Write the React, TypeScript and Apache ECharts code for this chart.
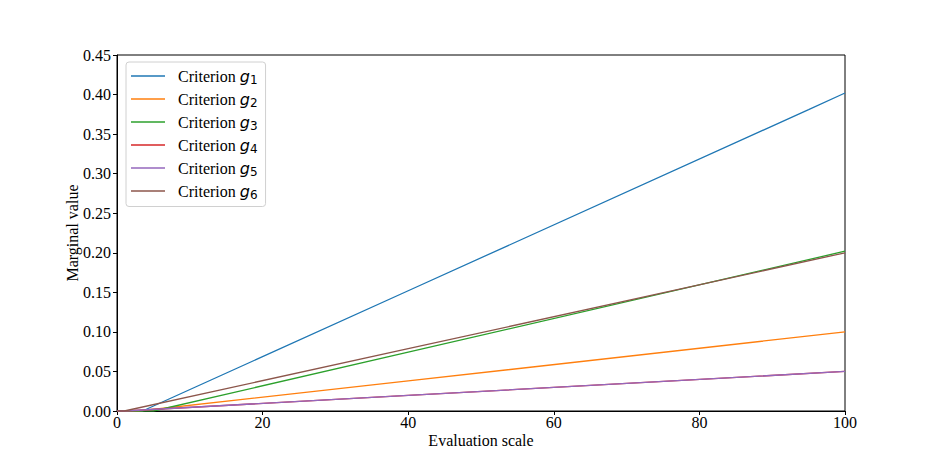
import React, { useEffect, useRef } from "react";
import * as echarts from "echarts";

const seriesNames = ["1", "2", "3", "4", "5", "6"];
const colors = ["#1f77b4", "#ff7f0e", "#2ca02c", "#d62728", "#9467bd", "#8c564b"];
// breakpoints [x, y]
const g1 = [[0, 0], [3.5, 0], [40, 0.152], [95, 0.381], [100, 0.402]];
const g2 = [[0, 0], [3, 0], [40, 0.038], [100, 0.1]];
const g3 = [[0, 0], [5, 0], [40, 0.0744], [100, 0.202]];
const g4 = [[0, 0], [1, 0], [40, 0.0197], [100, 0.05]];
const g5 = [[0, 0], [1, 0], [40, 0.0197], [100, 0.05]];
const g6 = [[0, 0], [1, 0], [40, 0.0788], [100, 0.2]];
const allData = [g1, g2, g3, g4, g5, g6];
const xTicks = [0, 20, 40, 60, 80, 100];

export default function App() {
  const ref = useRef<HTMLDivElement>(null);
  useEffect(() => {
    const chart = echarts.init(ref.current!, null, { renderer: "svg" });
    const serif = "Liberation Serif, Times New Roman, serif";
    chart.setOption({
      animation: false,
      backgroundColor: "#fff",
      grid: { left: 117, right: 93, top: 55, bottom: 52, show: true, borderColor: "#000", borderWidth: 1 },
      xAxis: {
        type: "value",
        min: 0,
        max: 100,
        interval: 20,
        name: "Evaluation scale",
        nameLocation: "middle",
        nameGap: 21,
        nameMoveOverlap: false,
        nameTextStyle: { fontFamily: serif, fontSize: 16, color: "#000" },
        axisLine: { show: true, lineStyle: { color: "#000", width: 1 } },
        axisTick: { show: true, inside: false, length: 4, lineStyle: { color: "#000" } },
        axisLabel: { fontFamily: serif, fontSize: 16, color: "#000", margin: 3, formatter: (v: number) => (xTicks.includes(v) ? String(v) : "") },
        splitLine: { show: false },
      },
      yAxis: {
        type: "value",
        min: 0,
        max: 0.45,
        interval: 0.05,
        name: "Marginal value",
        nameLocation: "middle",
        nameGap: 37,
        nameMoveOverlap: false,
        nameTextStyle: { fontFamily: serif, fontSize: 16, color: "#000" },
        axisLine: { show: true, lineStyle: { color: "#000", width: 1 } },
        axisTick: { show: true, inside: false, length: 4, lineStyle: { color: "#000" } },
        axisLabel: { fontFamily: serif, fontSize: 16, color: "#000", margin: 6, formatter: (v: number) => v.toFixed(2) },
        splitLine: { show: false },
      },
      legend: {
        show: true,
        orient: "vertical",
        left: 126,
        top: 62,
        padding: [6, 8, 6, 5],
        itemGap: 5.5,
        itemWidth: 34,
        itemHeight: 1.5,
        icon: "rect",
        borderColor: "#d0d0d0",
        borderWidth: 1,
        borderRadius: 3,
        backgroundColor: "rgba(255,255,255,0.8)",
        data: seriesNames.map((n) => "g" + n),
        formatter: (name: string) => `{t|Criterion }{g|g}{s|${name.slice(1)}}`,
        textStyle: {
          rich: {
            t: { fontFamily: serif, fontSize: 16, color: "#000", padding: [0, 0, 0, 8], height: 16 },
            g: { fontFamily: "DejaVu Sans", fontStyle: "italic", fontSize: 16, color: "#000" },
            s: { fontFamily: "DejaVu Sans", fontSize: 12, color: "#000", verticalAlign: "bottom", padding: [7, 0, 0, 0] },
          },
        },
      },
      series: allData.map((d, i) => ({
        name: "g" + seriesNames[i],
        type: "line",
        data: d,
        symbol: "none",
        lineStyle: { width: 1.3, color: colors[i] },
        itemStyle: { color: colors[i] },
        clip: true,
      })),
    });
    return () => chart.dispose();
  }, []);
  return <div ref={ref} style={{ position: "fixed", left: 0, top: 0, width: 938, height: 463 }} />;
}
